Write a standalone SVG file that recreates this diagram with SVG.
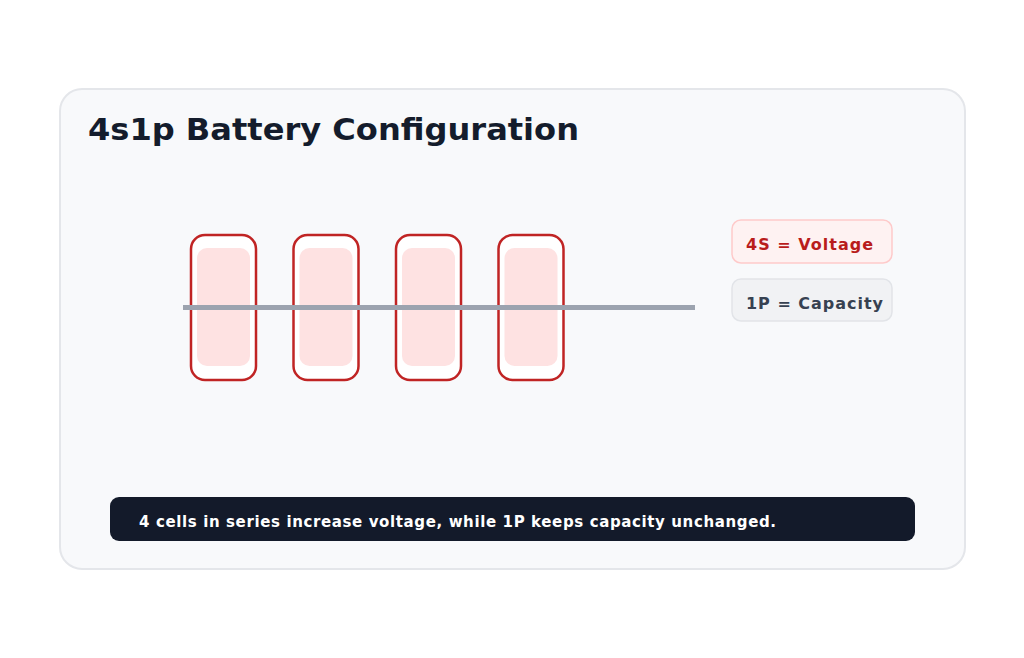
<svg xmlns="http://www.w3.org/2000/svg" width="1024" height="658" viewBox="0 0 1024 658">
<style>
.cell{fill:#fff;stroke:#c02424;stroke-width:2.5}
.in{fill:#fee2e2}
text{font-family:"DejaVu Sans",sans-serif;font-weight:bold}
</style>
<rect width="1024" height="658" fill="#fff"/>
<rect x="60" y="89" width="905" height="480" rx="22" fill="#f8f9fb" stroke="#e4e6ea" stroke-width="2"/>
<text x="88" y="140" font-size="31" fill="#141c2c" textLength="491" lengthAdjust="spacingAndGlyphs">4s1p Battery Configuration</text>
<g id="cell1"><rect class="cell" x="191" y="235" width="65" height="145" rx="14"/><rect class="in" x="197" y="248" width="53" height="118" rx="10"/></g>
<g id="cell2"><rect class="cell" x="293.5" y="235" width="65" height="145" rx="14"/><rect class="in" x="299.5" y="248" width="53" height="118" rx="10"/></g>
<g id="cell3"><rect class="cell" x="396" y="235" width="65" height="145" rx="14"/><rect class="in" x="402" y="248" width="53" height="118" rx="10"/></g>
<g id="cell4"><rect class="cell" x="498.5" y="235" width="65" height="145" rx="14"/><rect class="in" x="504.5" y="248" width="53" height="118" rx="10"/></g>
<g id="connectors"><line x1="183" y1="307.5" x2="695" y2="307.5" stroke="#9ca3af" stroke-width="5"/></g>
<g id="voltage"><rect x="732" y="220" width="160" height="43" rx="9" fill="#fef2f2" stroke="#fecaca" stroke-width="1.5"/><text x="746" y="250" font-size="16" fill="#b91c1c" textLength="127" lengthAdjust="spacing">4S = Voltage</text></g>
<g id="capacity"><rect x="732" y="279" width="160" height="42" rx="9" fill="#f1f2f4" stroke="#e2e4e8" stroke-width="1.5"/><text x="746" y="309" font-size="16" fill="#374151" textLength="137" lengthAdjust="spacing">1P = Capacity</text></g>
<g id="note"><rect x="110" y="497" width="805" height="44" rx="9" fill="#131a2a"/><text x="139" y="527" font-size="15" fill="#fff" textLength="637" lengthAdjust="spacing">4 cells in series increase voltage, while 1P keeps capacity unchanged.</text></g>
</svg>
